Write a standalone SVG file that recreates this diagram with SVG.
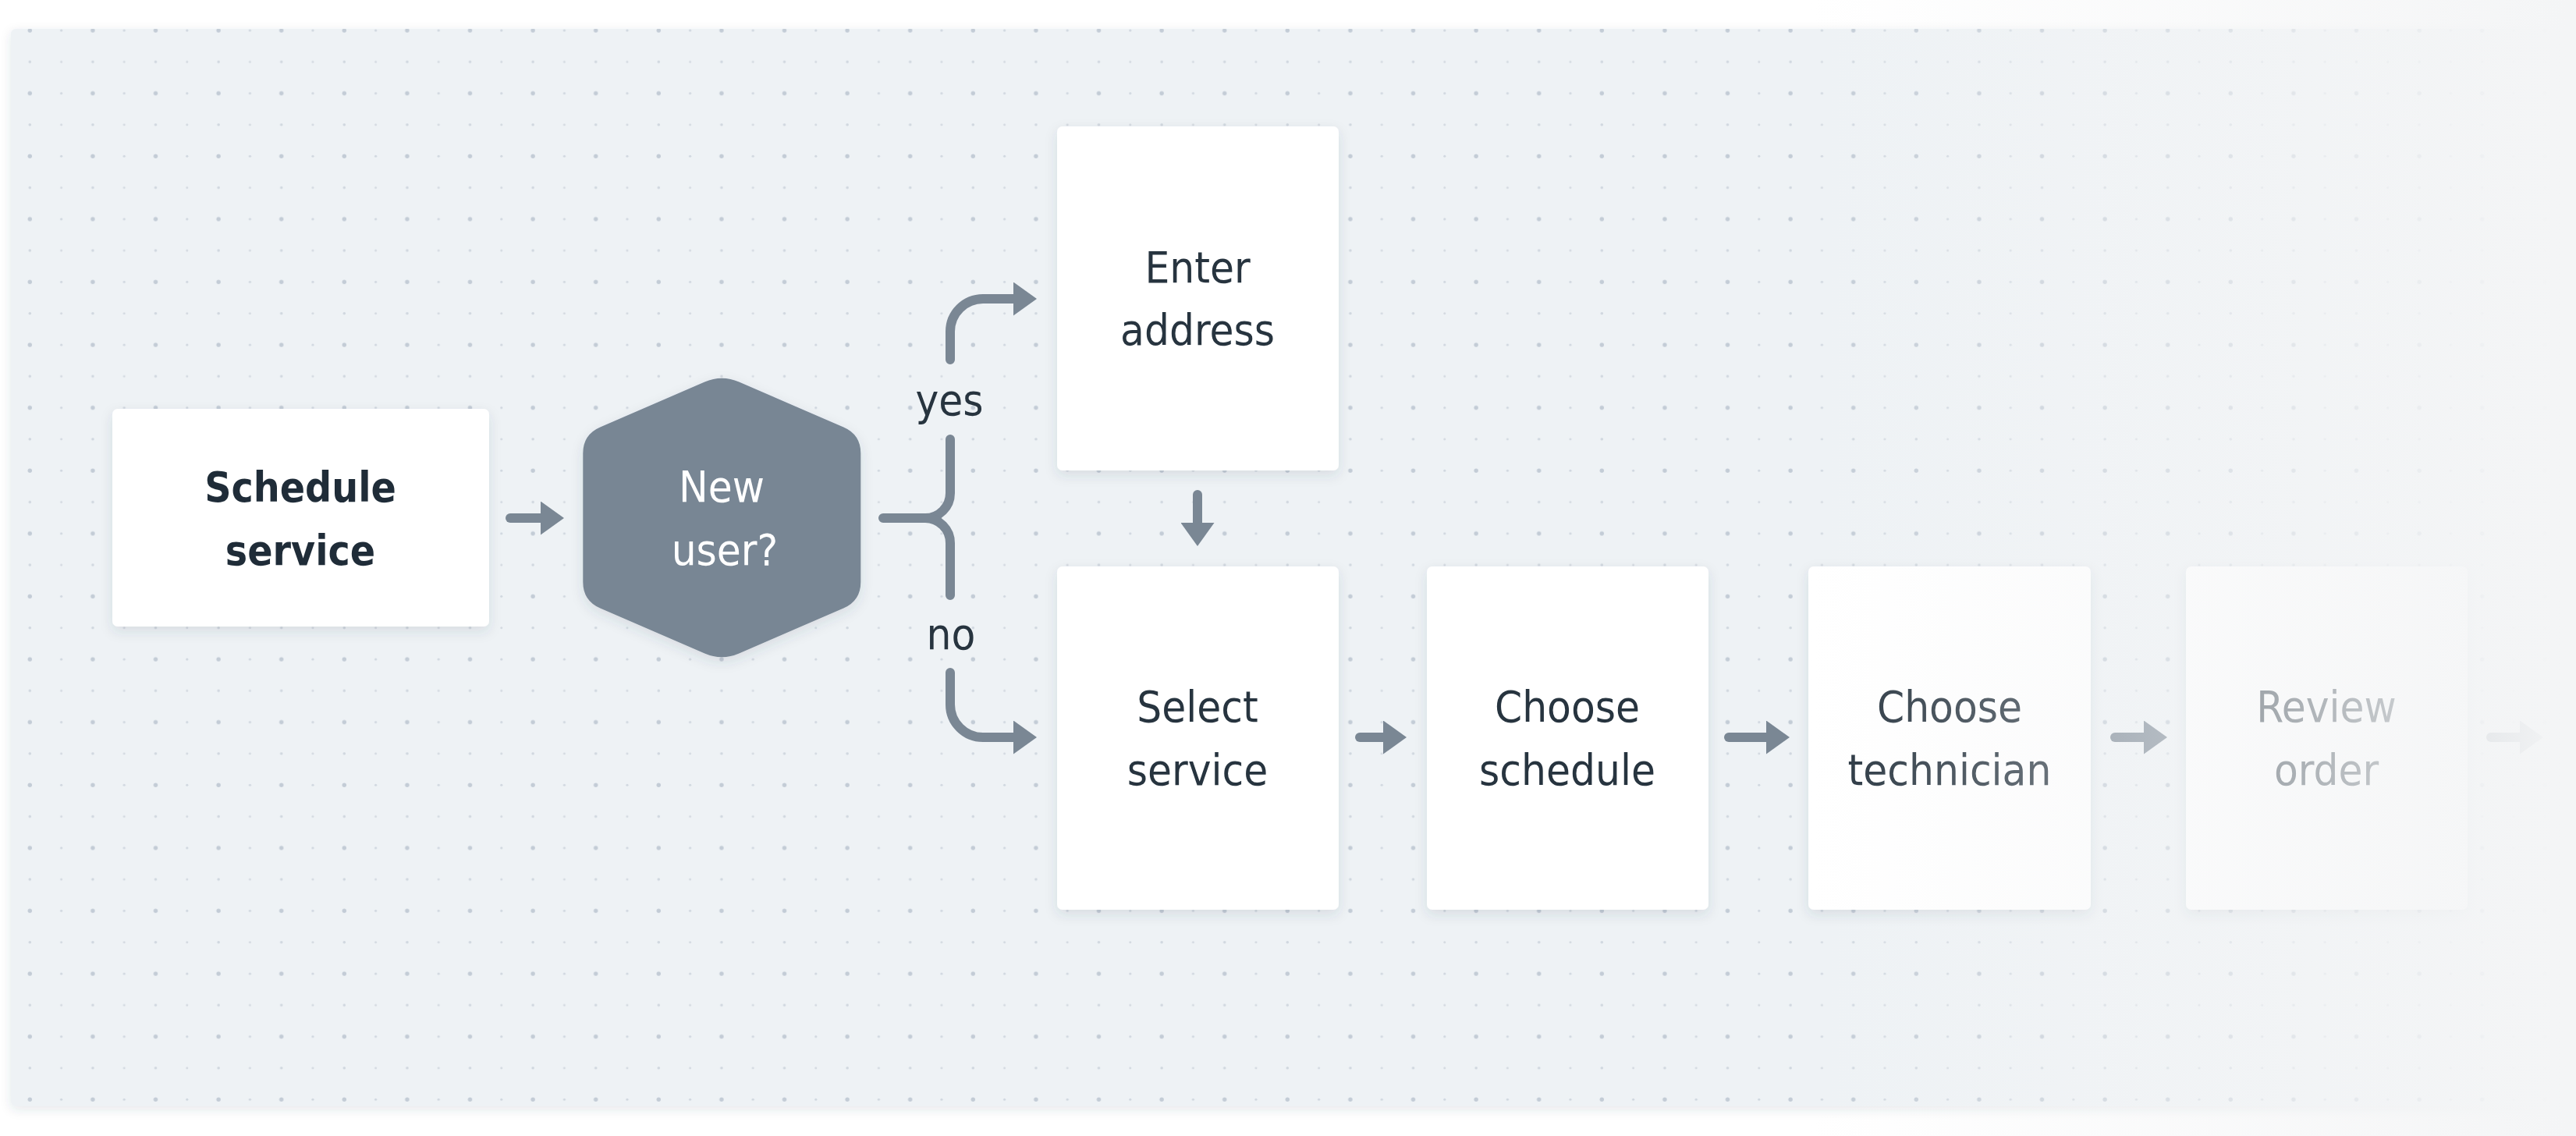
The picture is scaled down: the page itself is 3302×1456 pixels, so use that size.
<svg xmlns="http://www.w3.org/2000/svg" width="3302" height="1456" viewBox="0 0 3302 1456">
  <defs>
    <style>
      .lbl { font-family: "DejaVu Sans Condensed", "DejaVu Sans", sans-serif; font-stretch: condensed; font-size: 56px; fill: #27343f; text-anchor: middle; }
      .bold { font-weight: bold; font-size: 53px; fill: #1f2c38; }
      .inv { fill: #ffffff; }
      .box { fill: #ffffff; filter: url(#shadow); }
      .conn { fill: none; stroke: #7a8794; stroke-width: 12; stroke-linecap: round; stroke-linejoin: round; }
    </style>
    <pattern id="dots" patternUnits="userSpaceOnUse" x="18.15" y="18.85" width="80.6" height="80.6">
      <circle cx="20.15" cy="20.15" r="2.7" fill="#c3ccd6"/>
      <circle cx="60.45" cy="20.15" r="1.6" fill="#d0d7df"/>
      <circle cx="20.15" cy="60.45" r="1.8" fill="#d0d7df"/>
      <circle cx="60.45" cy="60.45" r="1.5" fill="#d4dae1"/>
    </pattern>
    <filter id="shadow" x="-20%" y="-20%" width="140%" height="150%">
      <feDropShadow dx="0" dy="6" stdDeviation="8" flood-color="#3c4c5c" flood-opacity="0.12"/>
    </filter>
    <filter id="pshadow" x="-5%" y="-5%" width="110%" height="110%">
      <feDropShadow dx="0" dy="4" stdDeviation="7" flood-color="#3c4c5c" flood-opacity="0.12"/>
    </filter>
    <marker id="ah" markerUnits="userSpaceOnUse" markerWidth="30" markerHeight="43" viewBox="0 0 30 43" refX="0" refY="21.5" orient="auto">
      <path d="M0,0 L30,21.5 L0,43 Z" fill="#7a8794"/>
    </marker>
    <linearGradient id="fade" gradientUnits="userSpaceOnUse" x1="2320" y1="0" x2="3290" y2="0">
      <stop offset="0" stop-color="#f4f5f6" stop-opacity="0"/>
      <stop offset="1" stop-color="#f4f5f6" stop-opacity="1"/>
    </linearGradient>
  </defs>

  <rect x="0" y="0" width="3302" height="1456" fill="#ffffff"/>
  <g id="canvas">
    <rect x="14" y="37" width="3300" height="1381" rx="6" fill="#eef2f5" filter="url(#pshadow)"/>
    <rect x="14" y="37" width="3300" height="1381" rx="6" fill="url(#dots)"/>
  </g>

  <g id="connectors">
    <path class="conn" d="M654,664 H693" marker-end="url(#ah)"/>
    <path class="conn" d="M1132,664 H1186 A32,32 0 0 0 1218,632 V563"/>
    <path class="conn" d="M1186,664 A32,32 0 0 1 1218,696 V763"/>
    <path class="conn" d="M1218,461 V425 A42,42 0 0 1 1260,383 H1299" marker-end="url(#ah)"/>
    <path class="conn" d="M1218,862 V903 A42,42 0 0 0 1260,945 H1299" marker-end="url(#ah)"/>
    <path class="conn" d="M1535,634 V670" marker-end="url(#ah)"/>
    <path class="conn" d="M1743,945 H1773" marker-end="url(#ah)"/>
    <path class="conn" d="M2216,945 H2264" marker-end="url(#ah)"/>
    <path class="conn" d="M2711,945 H2748" marker-end="url(#ah)"/>
    <path class="conn" d="M3193,945 H3230" marker-end="url(#ah)"/>
    <text class="lbl" x="1217" y="532" font-size="55">yes</text>
    <text class="lbl" x="1219" y="832" font-size="55">no</text>
  </g>

  <g id="node-schedule-service">
    <rect class="box" x="144" y="524" width="483" height="279" rx="7"/>
    <text class="lbl bold" x="385" y="643">Schedule</text>
    <text class="lbl bold" x="385" y="724">service</text>
  </g>

  <g id="node-new-user">
    <path d="M903.27,489.53 Q925.3,480 947.33,489.53 L1081.27,547.47 Q1103.3,557 1103.3,581 L1103.3,746 Q1103.3,770 1081.27,779.53 L947.33,837.47 Q925.3,847 903.27,837.47 L769.33,779.53 Q747.3,770 747.3,746 L747.3,581 Q747.3,557 769.33,547.47 Z" fill="#788694" filter="url(#shadow)"/>
    <text class="lbl inv" x="925" y="643">New</text>
    <text class="lbl inv" x="929" y="724">user?</text>
  </g>

  <g id="node-enter-address">
    <rect class="box" x="1355" y="162" width="361" height="441" rx="7"/>
    <text class="lbl" x="1535" y="362">Enter</text>
    <text class="lbl" x="1535" y="442">address</text>
  </g>

  <g id="node-select-service">
    <rect class="box" x="1355" y="726" width="361" height="440" rx="7"/>
    <text class="lbl" x="1535" y="925">Select</text>
    <text class="lbl" x="1535" y="1006">service</text>
  </g>

  <g id="node-choose-schedule">
    <rect class="box" x="1829" y="726" width="361" height="440" rx="7"/>
    <text class="lbl" x="2009" y="925">Choose</text>
    <text class="lbl" x="2009" y="1006">schedule</text>
  </g>

  <g id="node-choose-technician">
    <rect class="box" x="2318" y="726" width="362" height="440" rx="7"/>
    <text class="lbl" x="2499" y="925">Choose</text>
    <text class="lbl" x="2499" y="1006">technician</text>
  </g>

  <g id="node-review-order">
    <rect class="box" x="2802" y="726" width="361" height="440" rx="7"/>
    <text class="lbl" x="2982" y="925">Review</text>
    <text class="lbl" x="2982" y="1006">order</text>
  </g>

  <rect id="fade-overlay" x="0" y="0" width="3302" height="1456" fill="url(#fade)"/>
</svg>
